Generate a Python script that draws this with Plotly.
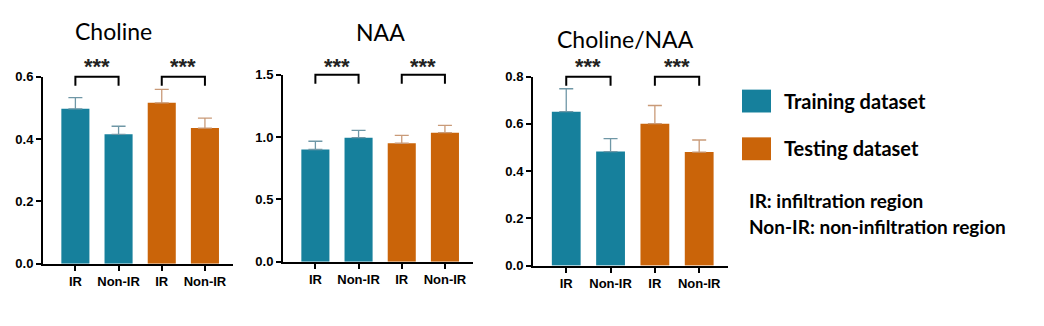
import plotly.graph_objects as go

# ---- data -------------------------------------------------------------
groups = ["IR", "Non-IR", "IR", "Non-IR"]
datasets = ["Training dataset", "Training dataset", "Testing dataset", "Testing dataset"]

panel_titles = ["Choline", "NAA", "Choline/NAA"]
choline_mean = [0.497, 0.415, 0.516, 0.435]
choline_err = [0.036, 0.026, 0.043, 0.032]
naa_mean = [0.90, 0.995, 0.95, 1.035]
naa_err = [0.066, 0.058, 0.064, 0.058]
ratio_mean = [0.652, 0.483, 0.601, 0.481]
ratio_err = [0.097, 0.055, 0.077, 0.051]

y_ranges = [[0, 0.6], [0, 1.5], [0, 0.8]]
y_ticks = [[0.0, 0.2, 0.4, 0.6], [0.0, 0.5, 1.0, 1.5], [0.0, 0.2, 0.4, 0.6, 0.8]]
y_ticktext = [["0.0", "0.2", "0.4", "0.6"], ["0.0", "0.5", "1.0", "1.5"],
              ["0.0", "0.2", "0.4", "0.6", "0.8"]]
sig_pairs = [(0, 1), (2, 3)]
sig_label = "***"

notes = ["IR: infiltration region", "Non-IR: non-infiltration region"]

COLORS = {"Training dataset": "#16809C", "Testing dataset": "#CA6409"}
ERR_COLORS = {"Training dataset": "#6F97A6", "Testing dataset": "#C99A78"}

# ---- layout geometry (target screenshot pixels) -----------------------
OFF = 8
W, H = 1044 - 2 * OFF, 326 - 2 * OFF
x_px = [(43, 233), (283, 473), (533, 728)]
y_px = [(77, 265), (75, 263), (77, 267)]
title_px = [(113, 31), (380, 32), (625, 39)]
STAR_TOP = 52


def px(x):
    return (x - OFF) / W


def py(y):
    y = (y - 7.3) / 0.957
    return 1 - (y - OFF) / H


means = [choline_mean, naa_mean, ratio_mean]
errs = [choline_err, naa_err, ratio_err]
positions = list(range(len(groups)))

fig = go.Figure()

axis_common = dict(showline=True, linecolor="black", linewidth=2,
                   ticks="outside", ticklen=5, tickwidth=2, tickcolor="black",
                   showgrid=False, zeroline=False,
                   tickfont=dict(family="Liberation Sans", size=13,
                                 color="black", weight="bold"))

for i in range(3):
    sfx = "" if i == 0 else str(i + 1)
    xa, ya = "x" + sfx, "y" + sfx

    for ds in ["Training dataset", "Testing dataset"]:
        idx = [k for k, d in enumerate(datasets) if d == ds]
        fig.add_trace(go.Bar(
            x=[positions[k] for k in idx],
            y=[means[i][k] for k in idx],
            width=0.65,
            marker=dict(color=COLORS[ds], line=dict(width=0)),
            error_y=dict(type="data", symmetric=False,
                         array=[errs[i][k] for k in idx],
                         arrayminus=[0] * len(idx),
                         color=ERR_COLORS[ds], thickness=1.3, width=7),
            xaxis=xa, yaxis=ya, showlegend=False,
        ))

    dom_lo, dom_hi = py(y_px[i][1]), py(y_px[i][0])
    fig.update_layout({
        "xaxis" + sfx: dict(
            domain=[px(x_px[i][0]), px(x_px[i][1])],
            range=[-0.75, 3.65], tickvals=positions, ticktext=groups,
            anchor=ya, **axis_common),
        "yaxis" + sfx: dict(
            domain=[dom_lo, dom_hi],
            range=y_ranges[i], tickvals=y_ticks[i], ticktext=y_ticktext[i],
            anchor=xa, **axis_common),
    })

    fig.add_annotation(text=panel_titles[i], xref="paper", yref="paper",
                       x=px(title_px[i][0]), y=py(title_px[i][1]),
                       showarrow=False, xanchor="center", yanchor="middle",
                       font=dict(family="Lato", size=23, color="black"))

    # significance brackets
    star_y = (py(STAR_TOP) - dom_lo) / (dom_hi - dom_lo)
    for a, b in sig_pairs:
        fig.add_shape(type="path",
                      path=f"M {a},0.952 L {a},1 L {b},1 L {b},0.952",
                      xref=xa, yref=f"{ya} domain",
                      line=dict(color="black", width=2))
        fig.add_annotation(text=sig_label, x=(a + b) / 2, y=star_y,
                           xref=xa, yref=f"{ya} domain", showarrow=False,
                           yanchor="top",
                           font=dict(family="Liberation Sans", size=22,
                                     color="#222222", weight="bold"))

# ---- custom legend ----------------------------------------------------
legend_rows = [("Training dataset", 101), ("Testing dataset", 149)]
for name, yc in legend_rows:
    fig.add_shape(type="rect", xref="paper", yref="paper",
                  x0=px(742), x1=px(771), y0=py(yc + 12), y1=py(yc - 11),
                  fillcolor=COLORS[name], line=dict(width=0))
    fig.add_annotation(text=name, xref="paper", yref="paper", x=px(782), y=py(yc),
                       showarrow=False, xanchor="left", yanchor="middle",
                       font=dict(family="Lato", size=20, color="black", weight="bold"))
for note, yc in zip(notes, [202, 228]):
    fig.add_annotation(text=note, xref="paper", yref="paper", x=px(747), y=py(yc),
                       showarrow=False, xanchor="left", yanchor="middle",
                       font=dict(family="Lato", size=19, color="black", weight="bold"))

fig.update_layout(
    width=W, height=H,
    margin=dict(l=0, r=0, t=0, b=0),
    paper_bgcolor="white", plot_bgcolor="white",
    barmode="overlay",
)

fig.write_html("out.html")
